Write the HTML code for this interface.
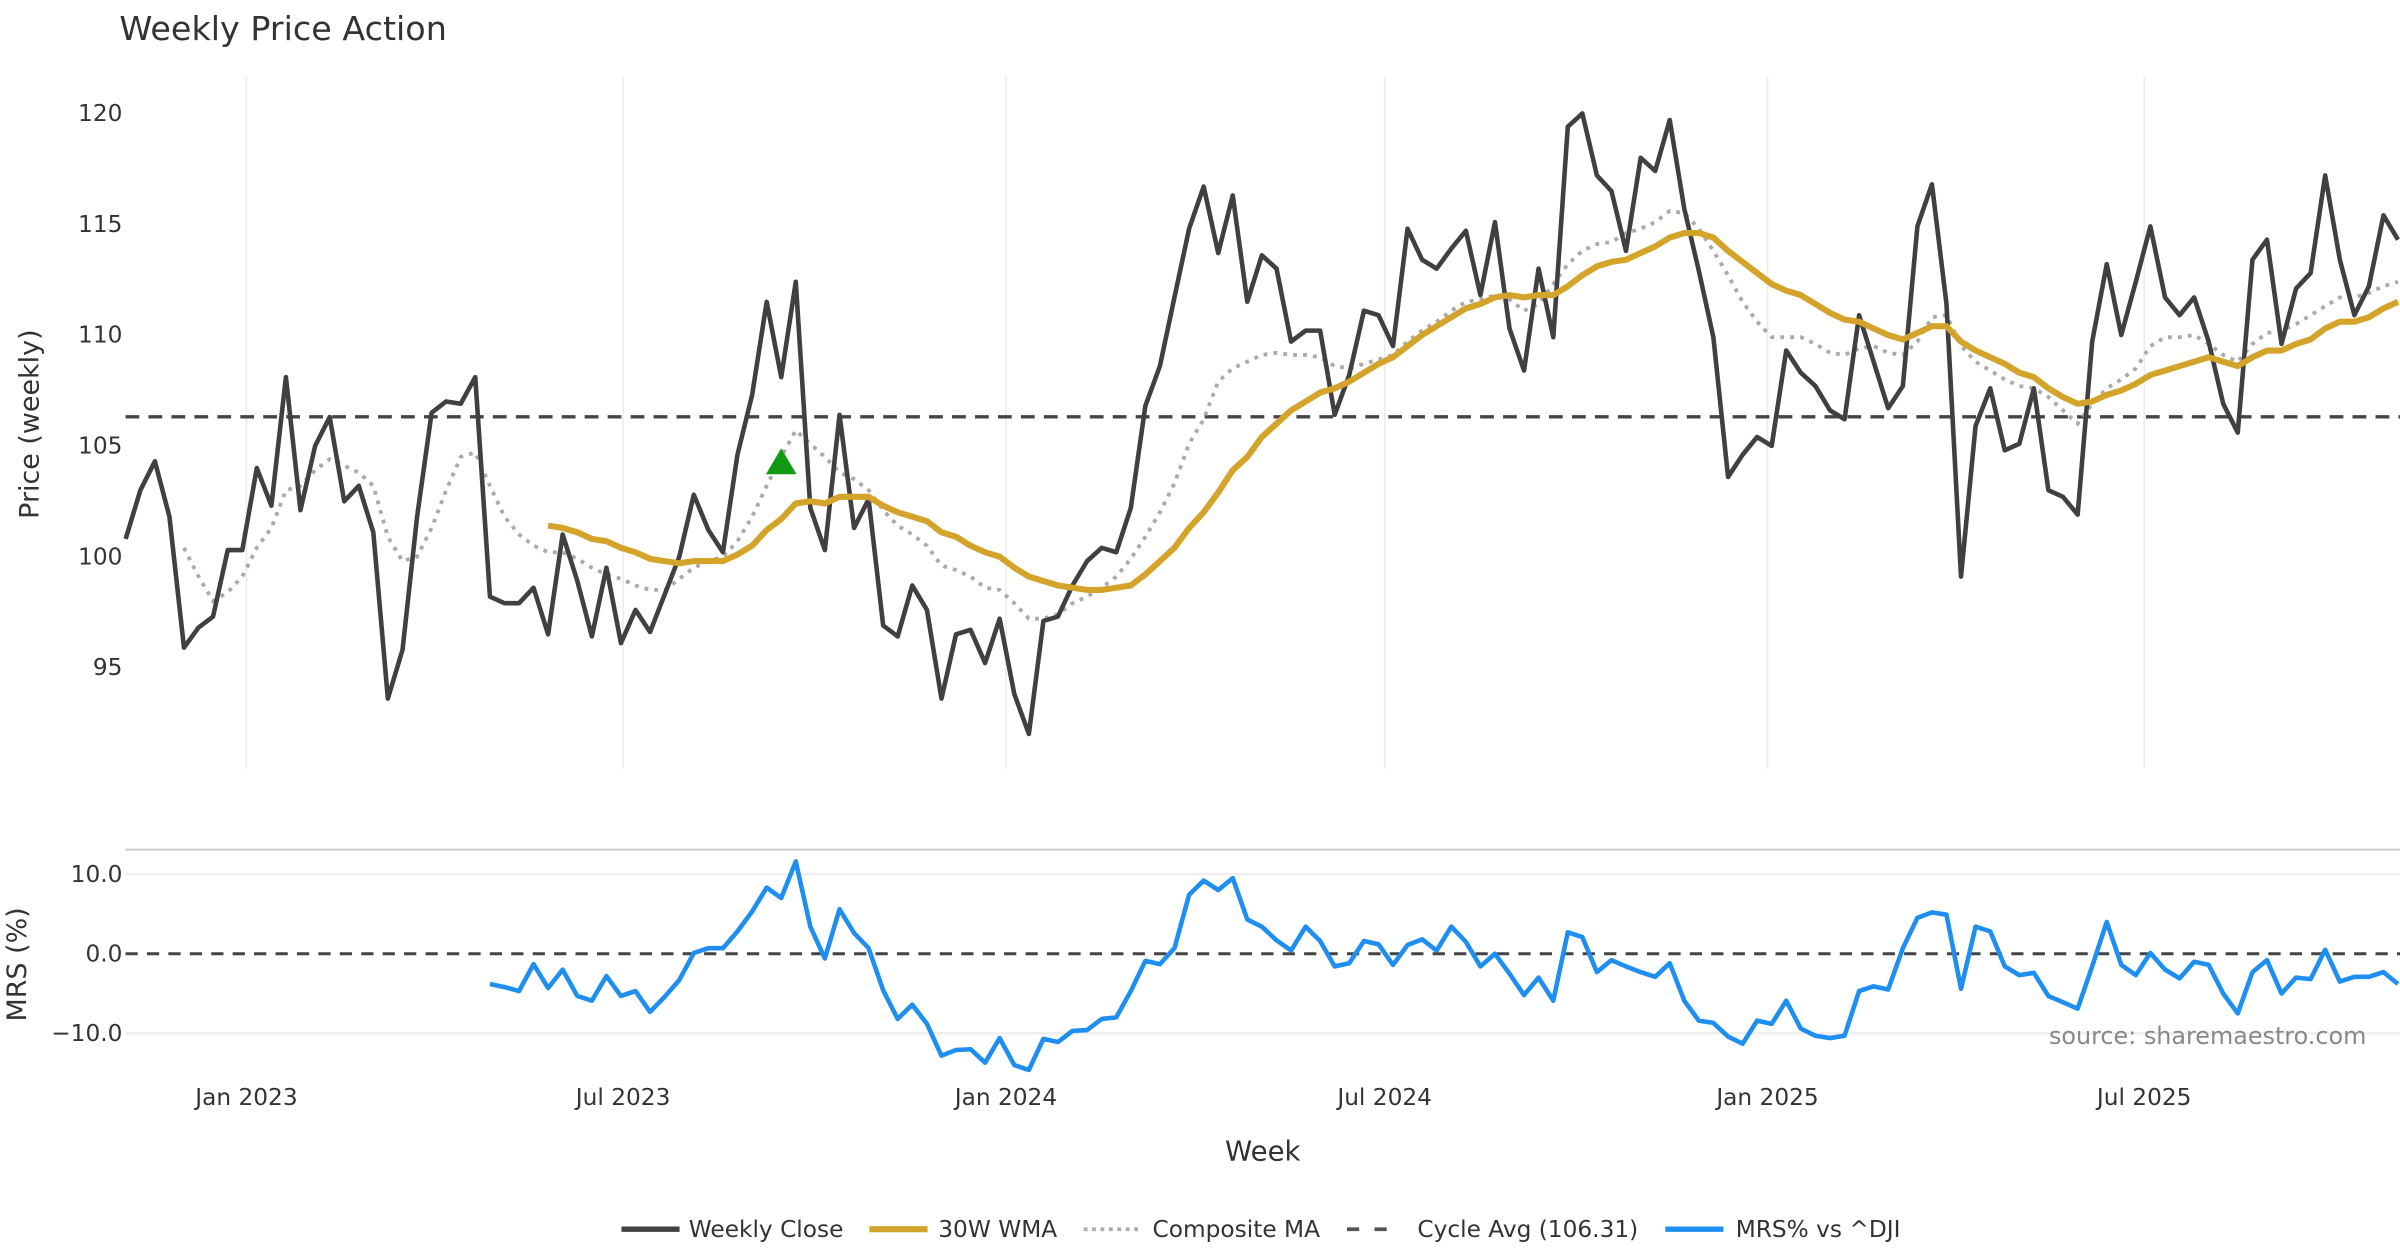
<!DOCTYPE html>
<html><head><meta charset="utf-8"><title>Weekly Price Action</title>
<style>
html,body{margin:0;padding:0;background:#fff;}
svg{display:block;font-family:"DejaVu Sans","Liberation Sans",sans-serif;}
</style></head>
<body>
<svg id="chart" width="2400" height="1260" viewBox="0 0 1568 823" xmlns="http://www.w3.org/2000/svg">
<rect width="1568" height="823" fill="#fff"/>
<text x="78" y="26" font-size="21.8" fill="#333">Weekly Price Action</text>
<g id="grid"></g>
<g id="price"></g>
<g id="mrs"></g>
<g id="axes"></g>
<text transform="translate(25,277) rotate(-90)" text-anchor="middle" font-size="17.6" fill="#333">Price (weekly)</text>
<text transform="translate(17,630) rotate(-90)" text-anchor="middle" font-size="17.6" fill="#333">MRS (%)</text>
<text x="825" y="758" text-anchor="middle" font-size="18" fill="#333">Week</text>
<text x="1546" y="682" text-anchor="end" font-size="15.6" fill="#888">source: sharemaestro.com</text>
<g font-size="15.2" fill="#333">
 <g><line x1="406" y1="803" x2="444" y2="803" stroke="#404040" stroke-width="3.5"/><text x="450" y="808">Weekly Close</text></g>
 <g><line x1="568" y1="803" x2="606" y2="803" stroke="#d4a42a" stroke-width="4"/><text x="613" y="808">30W WMA</text></g>
 <g><line x1="708" y1="803" x2="744" y2="803" stroke="#aaa" stroke-width="2.5" stroke-dasharray="2.5,3"/><text x="753" y="808">Composite MA</text></g>
 <g><line x1="880" y1="803" x2="916" y2="803" stroke="#555" stroke-width="2.5" stroke-dasharray="8,10"/><text x="926" y="808">Cycle Avg (106.31)</text></g>
 <g><line x1="1088" y1="803" x2="1126" y2="803" stroke="#1e8ff0" stroke-width="3.5"/><text x="1134" y="808">MRS% vs ^DJI</text></g>
</g>
</svg>
<script>
const closeVals=[100.8,103.0,104.3,101.8,95.9,96.8,97.3,100.3,100.3,104.0,102.3,108.1,102.1,105.0,106.3,102.5,103.2,101.1,93.6,95.8,101.8,106.5,107.0,106.9,108.1,98.2,97.9,97.9,98.6,96.5,101.0,98.9,96.4,99.5,96.1,97.6,96.6,98.3,100.0,102.8,101.2,100.2,104.6,107.3,111.5,108.1,112.4,102.2,100.3,106.4,101.3,102.6,96.9,96.4,98.7,97.6,93.6,96.5,96.7,95.2,97.2,93.8,92.0,97.1,97.3,98.7,99.8,100.4,100.2,102.2,106.8,108.6,111.7,114.8,116.7,113.7,116.3,111.5,113.6,113.0,109.7,110.2,110.2,106.4,108.2,111.1,110.9,109.5,114.8,113.4,113.0,113.9,114.7,111.8,115.1,110.3,108.4,113.0,109.9,119.4,120.0,117.2,116.5,113.8,118.0,117.4,119.7,115.7,112.9,109.9,103.6,104.6,105.4,105.0,109.3,108.3,107.7,106.6,106.2,110.9,108.8,106.7,107.7,114.9,116.8,111.4,99.1,105.9,107.6,104.8,105.1,107.6,103.0,102.7,101.9,109.7,113.2,110.0,112.4,114.9,111.7,110.9,111.7,109.7,106.9,105.6,113.4,114.3,109.6,112.1,112.8,117.2,113.4,110.9,112.2,115.4,114.3];
const wmaStart=29;
const wmaVals=[101.4,101.3,101.1,100.8,100.7,100.4,100.2,99.9,99.8,99.7,99.8,99.8,99.8,100.1,100.5,101.2,101.7,102.4,102.5,102.4,102.7,102.7,102.7,102.3,102.0,101.8,101.6,101.1,100.9,100.5,100.2,100.0,99.5,99.1,98.9,98.7,98.6,98.5,98.5,98.6,98.7,99.2,99.8,100.4,101.3,102.0,102.9,103.9,104.5,105.4,106.0,106.6,107.0,107.4,107.6,107.9,108.3,108.7,109.0,109.5,110.0,110.4,110.8,111.2,111.4,111.7,111.8,111.7,111.8,111.8,112.2,112.7,113.1,113.3,113.4,113.7,114.0,114.4,114.6,114.6,114.4,113.8,113.3,112.8,112.3,112.0,111.8,111.4,111.0,110.7,110.6,110.3,110.0,109.8,110.1,110.4,110.4,109.7,109.3,109.0,108.7,108.3,108.1,107.6,107.2,106.9,107.0,107.3,107.5,107.8,108.2,108.4,108.6,108.8,109.0,108.8,108.6,109.0,109.3,109.3,109.6,109.8,110.3,110.6,110.6,110.8,111.2,111.5];
const compStart=4;
const compVals=[100.4,99.1,98.0,98.4,99.1,100.4,101.3,103.0,103.2,103.9,104.4,104.1,103.8,103.2,100.9,99.8,100.0,101.3,103.0,104.5,104.7,103.2,101.8,101.0,100.5,100.2,100.2,99.9,99.5,99.2,99.0,98.7,98.5,98.5,99.0,99.5,99.8,100.0,100.7,101.8,103.2,104.5,105.7,105.1,104.5,103.8,103.5,103.0,102.1,101.4,101.0,100.5,99.6,99.4,99.1,98.6,98.5,97.9,97.2,97.2,97.4,97.9,98.2,98.6,99.1,99.9,100.9,102.0,103.3,105.1,106.2,107.9,108.5,108.8,109.1,109.2,109.1,109.1,109.0,108.6,108.5,108.7,108.9,109.1,109.7,110.2,110.6,111.1,111.5,111.6,111.8,111.6,111.1,111.4,112.3,113.2,113.8,114.1,114.2,114.6,114.8,115.1,115.6,115.5,114.8,113.8,112.7,111.5,110.6,109.9,109.9,109.9,109.6,109.2,109.1,109.4,109.5,109.2,109.1,109.7,110.8,110.9,109.5,108.8,108.4,108.0,107.7,107.6,107.2,106.6,106.0,106.9,107.6,108.0,108.5,109.5,109.9,109.9,110.0,109.6,109.1,108.8,109.6,110.1,110.2,110.5,110.9,111.3,111.7,111.7,111.9,112.2,112.4];
const mrsStart=25;
const mrsVals=[-3.8,-4.2,-4.7,-1.3,-4.3,-2.0,-5.3,-5.9,-2.8,-5.3,-4.7,-7.3,-5.4,-3.3,0.1,0.7,0.7,2.8,5.3,8.3,7.0,11.6,3.4,-0.6,5.6,2.6,0.7,-4.6,-8.2,-6.4,-8.8,-12.8,-12.1,-12.0,-13.7,-10.6,-14.0,-14.6,-10.7,-11.1,-9.7,-9.6,-8.2,-8.0,-4.7,-0.9,-1.3,0.7,7.4,9.2,8.0,9.5,4.3,3.4,1.7,0.4,3.4,1.6,-1.6,-1.2,1.6,1.2,-1.4,1.1,1.8,0.4,3.4,1.5,-1.6,0.0,-2.5,-5.2,-3.0,-5.9,2.7,2.1,-2.3,-0.8,-1.6,-2.3,-2.9,-1.2,-5.9,-8.4,-8.7,-10.4,-11.3,-8.4,-8.8,-5.9,-9.4,-10.3,-10.6,-10.3,-4.7,-4.1,-4.5,0.7,4.5,5.2,4.9,-4.4,3.4,2.8,-1.6,-2.7,-2.4,-5.3,-6.1,-6.9,-1.6,4.0,-1.4,-2.7,0.1,-2.0,-3.1,-1.0,-1.4,-5.0,-7.5,-2.3,-0.8,-5.0,-3.0,-3.2,0.5,-3.5,-2.9,-2.9,-2.3,-3.8];
const cycleAvg=106.31;
const signalIndex=45;
const signalValue=104.2;
const priceTicks=[95,100,105,110,115,120];
const mrsTicks=[-10,0,10];
const mrsTickLabels=["\u221210.0","0.0","10.0"];
const dateTicks=["2023-01-01","2023-07-01","2024-01-01","2024-07-01","2025-01-01","2025-07-01"];
const dateTickLabels=["Jan 2023","Jul 2023","Jan 2024","Jul 2024","Jan 2025","Jul 2025"];
const firstWeek="2022-11-04";

const NS="http://www.w3.org/2000/svg";
const X0=161, PXDAY=1.3595, REF=Date.parse("2023-01-01");
const t0=Date.parse(firstWeek);
function xDate(ms){return X0+(ms-REF)/86400000*PXDAY;}
function xIdx(i){return xDate(t0+i*7*86400000);}
function yP(v){return 74+(120-v)*14.48;}
function yM(v){return 623-v*5.2;}
function mk(parent,tag,attrs){const e=document.createElementNS(NS,tag);for(const k in attrs)e.setAttribute(k,attrs[k]);parent.appendChild(e);return e;}
function pathD(vals,start,yf){return vals.map((v,j)=>(j?"L":"M")+xIdx(start+j).toFixed(1)+","+yf(v).toFixed(1)).join("");}
const grid=document.getElementById("grid"),price=document.getElementById("price"),mrs=document.getElementById("mrs"),axes=document.getElementById("axes");

dateTicks.forEach((d,k)=>{
 const x=xDate(Date.parse(d));
 const g=mk(grid,"line",{x1:x,y1:50,x2:x,y2:502,stroke:"#ebebeb","stroke-width":1});
 
 
 const t=mk(axes,"text",{x:x,y:722,"text-anchor":"middle","font-size":15.2,fill:"#333"});
 t.textContent=dateTickLabels[k];
 
 
});
priceTicks.forEach(v=>{
 const t=mk(axes,"text",{x:80,y:yP(v)+5,"text-anchor":"end","font-size":15.2,fill:"#333"});
 t.textContent=String(v);
 
 
});
mrsTicks.forEach((v,k)=>{
 if(v!==0){const l=mk(grid,"line",{x1:82,y1:yM(v),x2:1568,y2:yM(v),stroke:"#eeeeee","stroke-width":1.5});
 
 }
 const t=mk(axes,"text",{x:80,y:yM(v)+5,"text-anchor":"end","font-size":15.2,fill:"#333"});
 t.textContent=mrsTickLabels[k];
 
 
});
const sep=mk(grid,"line",{x1:82,y1:555,x2:1568,y2:555,stroke:"#cccccc","stroke-width":1.3});



const cyc=mk(price,"line",{x1:82,y1:yP(cycleAvg),x2:1568,y2:yP(cycleAvg),stroke:"#444","stroke-width":2.2,"stroke-dasharray":"9,6"});


const comp=mk(price,"path",{d:pathD(compVals,compStart,yP),fill:"none",stroke:"#aaa","stroke-width":2.5,"stroke-dasharray":"2.5,4"});


const cl=mk(price,"path",{d:pathD(closeVals,0,yP),fill:"none",stroke:"#404040","stroke-width":3,"stroke-linejoin":"round"});


const wma=mk(price,"path",{d:pathD(wmaVals,wmaStart,yP),fill:"none",stroke:"#d4a42a","stroke-width":4,"stroke-linejoin":"round"});


const sx=xIdx(signalIndex),sy=yP(signalValue);
const tri=mk(price,"polygon",{points:`${sx-10},${sy+7} ${sx+10},${sy+7} ${sx},${sy-10}`,fill:"#129a12"});



const zl=mk(mrs,"line",{x1:82,y1:yM(0),x2:1568,y2:yM(0),stroke:"#444","stroke-width":2,"stroke-dasharray":"8,6"});


const ml=mk(mrs,"path",{d:pathD(mrsVals,mrsStart,yM),fill:"none",stroke:"#1e8ff0","stroke-width":3,"stroke-linejoin":"round"});


</script>
</body></html>
